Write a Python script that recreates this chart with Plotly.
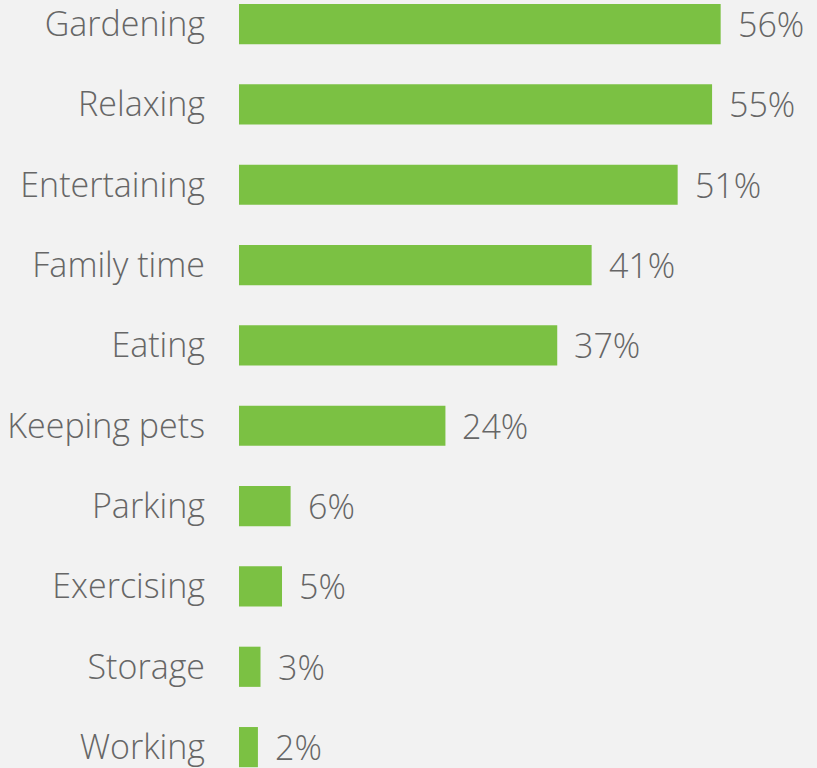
import plotly.graph_objects as go

categories = ["Gardening", "Relaxing", "Entertaining", "Family time", "Eating",
              "Keeping pets", "Parking", "Exercising", "Storage", "Working"]
values = [56, 55, 51, 41, 37, 24, 6, 5, 2.5, 2.2]
value_labels = ["56%", "55%", "51%", "41%", "37%", "24%", "6%", "5%", "3%", "2%"]

font_family = "Open Sans"
text_color = "#666666"
font_size = 34

fig = go.Figure(go.Bar(
    x=values, y=categories, orientation="h",
    marker=dict(color="#7bc143", line=dict(width=0)),
    width=0.5,
    hoverinfo="skip",
))

for c, v, t in zip(categories, values, value_labels):
    fig.add_annotation(x=v, y=c, text=t, showarrow=False, xanchor="left",
                       xshift=15, yshift=0,
                       font=dict(family=font_family, size=font_size, color=text_color, weight=300))

fig.update_layout(
    width=817, height=768,
    paper_bgcolor="#f2f2f2", plot_bgcolor="#f2f2f2",
    margin=dict(l=239, r=0, t=0, b=0),
    showlegend=False,
    xaxis=dict(range=[0, 67.2], visible=False),
    yaxis=dict(
        categoryorder="array", categoryarray=categories,
        range=[9.26, -0.30],
        showgrid=False, zeroline=False, showline=False, ticks="",
        ticklabelstandoff=33,
        tickfont=dict(family=font_family, size=font_size, color=text_color, weight=300),
    ),
    bargap=0.5,
)

fig.write_html("out.html", config={"displayModeBar": False},
               post_script="document.body.style.margin='0';document.body.style.background='#f2f2f2';")
